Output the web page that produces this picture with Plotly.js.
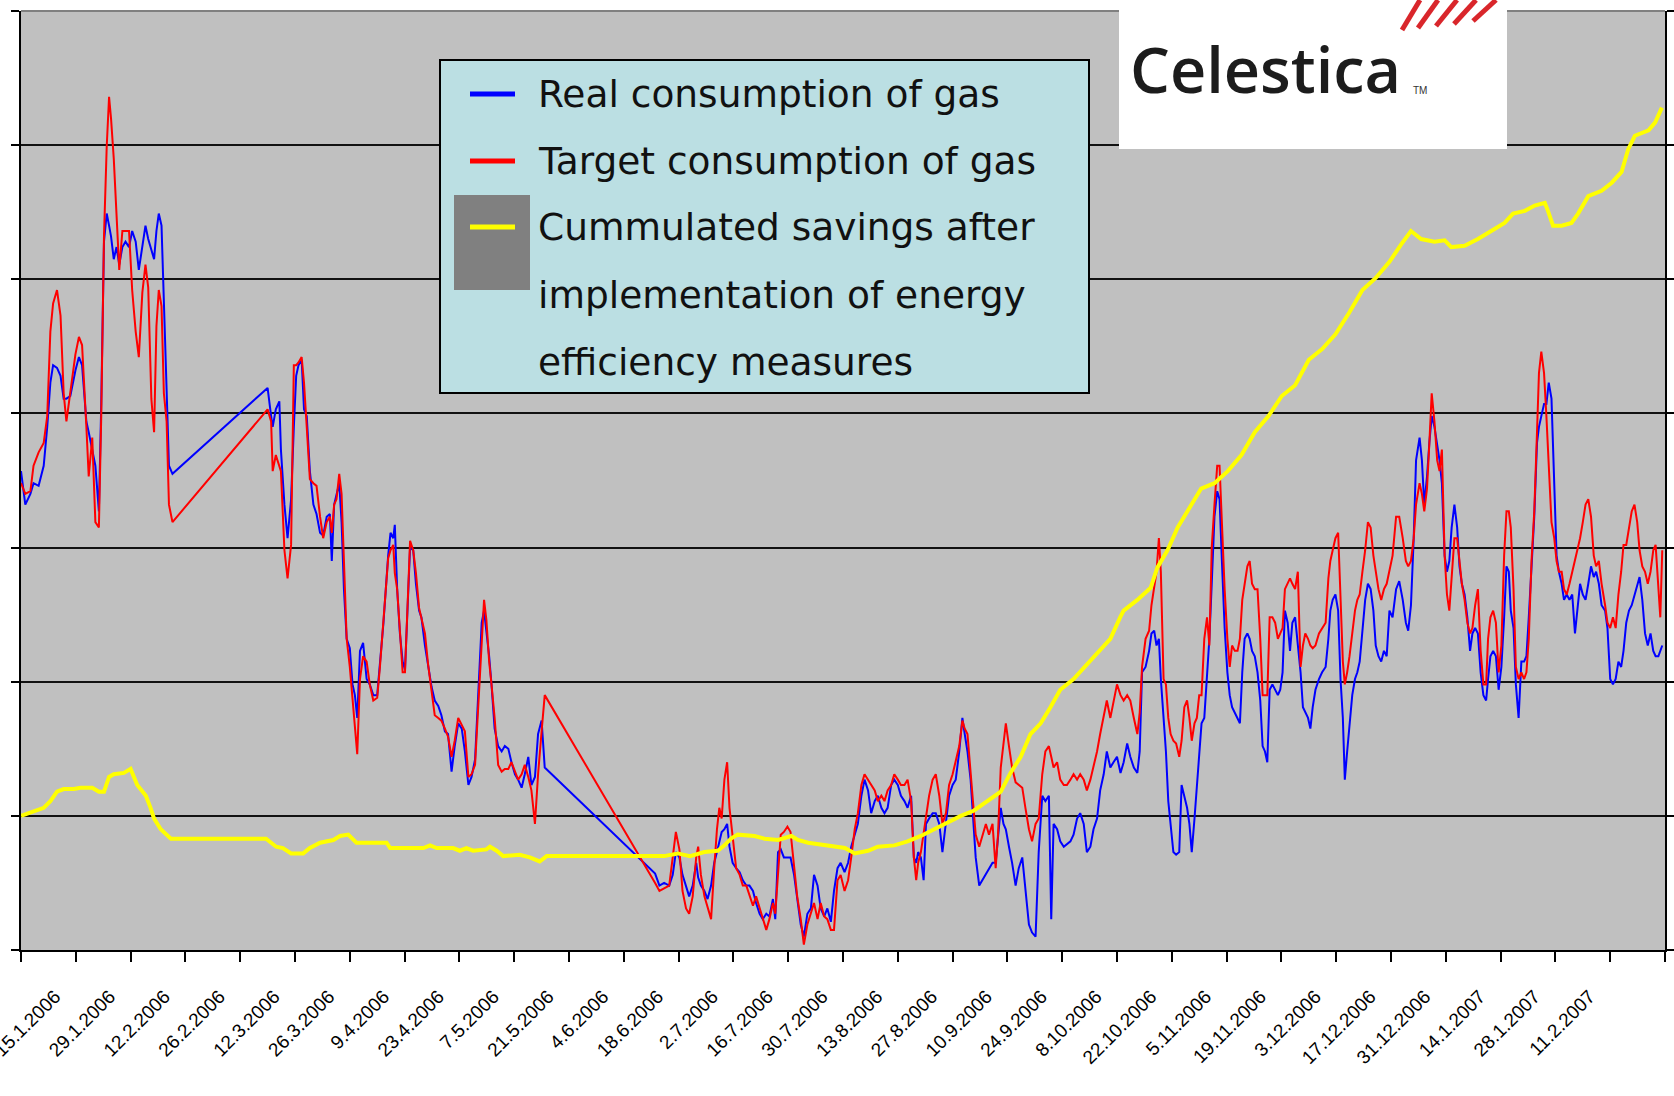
<!DOCTYPE html>
<html>
<head>
<meta charset="utf-8">
<script src="https://cdn.plot.ly/plotly-3.0.1.min.js"></script>
<style>
  html, body { margin: 0; padding: 0; background: #fff; }
  #chart { width: 1674px; height: 1096px; }
</style>
</head>
<body>
<div id="chart"></div>
<script>
// Days counted from 15.1.2006 (first tick of the axis)
var startDate = Date.UTC(2006, 0, 15);

// Gas consumption, real (blue) and target (red), same days
var gasDays = [
  0, 1.1, 2.4, 3.2, 4.5, 5.8, 6.7, 7.5, 8.2, 9.2, 10.1, 10.9, 11.6, 12.6, 13.9, 14.8, 15.6, 16.7, 17.3, 18.2,
  19.0, 19.9, 20.5, 21.2, 21.9, 22.5, 23.0, 23.7, 24.4, 25.1, 25.9, 26.7, 27.6, 28.4, 29.3, 30.1, 31.0, 31.8, 32.5, 33.3,
  34.0, 34.6, 35.2, 35.9, 36.5, 37.2, 37.8, 38.7, 63.0, 63.9, 64.3, 65.1, 66.0, 66.4, 67.3, 68.1, 69.0, 69.7,
  70.3, 70.9, 71.7, 72.3, 73.0, 73.8, 74.7, 75.5, 76.4, 77.2, 78.1, 78.9, 79.4, 80.0, 80.6, 81.3, 81.9, 82.5, 83.2, 84.0,
  84.7, 85.3, 85.9, 86.6, 87.4, 88.3, 89.1, 90.0, 91.0, 91.7, 92.6, 93.2, 93.8, 94.4, 95.1, 95.5, 96.1, 96.8, 97.5, 98.1,
  98.7, 99.4, 100.2, 100.9, 101.7, 102.3, 103.2, 104.0, 104.9, 105.7, 106.6, 107.4, 108.3, 109.1, 110.0, 110.8, 111.7, 112.6, 113.4, 114.3,
  115.1, 116.0, 116.8, 117.7, 118.3, 118.9, 119.6, 120.2, 121.0, 121.9, 122.8, 123.6, 124.5, 125.3, 126.2, 127.0, 127.9, 128.7, 129.6, 130.4,
  131.3, 132.1, 133.0, 133.8,
  162.0, 163.1, 164.3, 165.6, 166.5, 167.3, 168.2, 169.0, 169.9, 170.7, 171.6, 172.5, 173.0, 173.7, 174.6, 175.4, 176.3, 177.1, 177.8, 178.4,
  179.0, 179.7, 180.4, 181.0, 181.8, 182.7, 183.6, 184.4, 185.3, 186.1, 187.0, 187.8, 188.7, 189.5, 190.4, 191.2, 192.1, 192.7, 193.4, 194.1,
  194.9, 195.8, 196.6, 197.5, 198.3, 199.2, 200.0, 200.9, 201.8, 202.6, 203.5, 204.3, 205.2, 206.0, 206.9, 207.7, 208.6, 209.4,
  210.4, 211.3, 212.1, 213.0, 213.8, 214.7, 215.5, 216.4, 217.2, 218.1, 218.9, 219.8, 220.6, 221.4, 222.3, 223.1, 224.0, 224.8, 225.7, 226.5,
  227.4, 228.1, 228.7, 229.2, 229.9, 230.6, 231.2, 232.0, 232.9, 233.7, 234.6, 235.4, 236.3, 237.1, 238.0, 238.8, 239.7, 240.5, 241.1, 241.8,
  242.6, 243.3, 243.9, 244.8, 245.6, 246.5, 247.3, 248.2, 249.0, 249.6, 250.3, 251.0, 251.6, 252.4, 253.2, 254.1, 254.9, 255.8, 256.6, 257.5,
  258.3, 259.2, 260.0, 260.9, 261.7, 262.6, 263.2, 263.8, 264.7, 265.5, 266.4, 267.2, 268.1, 268.9, 269.8, 270.6, 271.5, 272.3, 273.2, 274.0,
  274.9, 275.7, 276.6, 277.4, 278.3, 279.1, 280.0,
  280.9, 281.7, 282.6, 283.4, 284.3, 285.2, 285.8, 286.4, 287.3, 288.2, 288.8, 289.5, 290.1, 290.7, 291.2, 291.9, 292.5, 293.1, 293.7, 294.4,
  295.1, 295.9, 296.5, 297.2, 297.9, 298.5, 299.1, 299.8, 300.4, 301.0, 301.6, 302.3, 303.0, 303.6, 304.2, 304.9, 305.6, 306.2, 306.8, 307.5,
  308.2, 308.8, 309.4, 310.1, 310.8, 311.4, 312.0, 312.6, 313.3, 313.9, 314.5, 315.2, 315.9, 316.6, 317.2, 317.8, 318.4, 319.0, 319.7, 320.4,
  321.1, 321.7, 322.3, 322.9, 323.6, 324.2, 324.8, 325.5, 326.2, 326.9, 327.5, 328.1, 328.8, 329.4, 330.0, 330.7, 331.6, 332.4, 333.3, 334.0,
  334.5, 335.1, 335.8, 336.5, 337.1, 337.7, 338.2, 338.8, 339.4, 340.1, 340.8, 341.4, 342.0, 342.7, 343.4, 344.1, 344.8, 345.5, 346.1, 346.8,
  347.5, 348.2, 348.9, 349.6,
  350.4, 351.3, 352.1, 353.0, 353.8, 354.4, 355.1, 355.8, 356.4, 357.3, 357.9, 358.5, 359.2, 359.8, 360.4, 361.1, 361.8, 362.4, 363.0, 363.7,
  364.3, 364.9, 365.5, 366.2, 366.9, 367.5, 368.1, 368.8, 369.5, 370.2, 370.8, 371.5, 372.2, 372.9, 373.6, 374.3, 374.8, 375.4, 376.1, 376.8,
  377.5, 378.2, 378.9, 379.5, 380.1, 380.6, 381.3, 381.9, 382.6, 383.3, 384.0, 384.6, 385.2, 385.9, 386.6, 387.3, 387.8, 388.4, 389.1, 389.7,
  390.3, 391.0, 391.7, 392.3, 392.9, 393.6, 394.2, 394.9, 395.6, 396.3, 397.0, 397.7, 398.3, 399.0, 399.7, 400.4, 401.1, 401.8, 402.4, 403.1,
  403.8, 404.7, 405.3, 406.0, 406.7, 407.4, 408.1, 408.8, 409.4, 410.1, 410.8, 411.5, 412.2, 412.9, 413.5, 414.2, 414.9, 415.6, 416.3, 417.0,
  417.6, 418.3, 418.8, 419.3
];

var realGas = [
  3.57, 3.32, 3.40, 3.48, 3.46, 3.61, 3.90, 4.23, 4.36, 4.34, 4.28, 4.11, 4.11, 4.13, 4.32, 4.42, 4.36, 3.94, 3.86, 3.73,
  3.61, 3.27, 4.07, 5.28, 5.49, 5.40, 5.32, 5.15, 5.24, 5.11, 5.24, 5.28, 5.24, 5.36, 5.28, 5.07, 5.24, 5.40, 5.30, 5.22,
  5.15, 5.36, 5.49, 5.40, 4.82, 4.07, 3.61, 3.55, 4.19, 3.98, 3.90, 4.03, 4.09, 3.73, 3.32, 3.07, 3.36, 3.90,
  4.28, 4.36, 4.40, 4.03, 3.98, 3.57, 3.32, 3.25, 3.11, 3.09, 3.23, 3.25, 2.90, 3.32, 3.40, 3.48, 3.19, 2.69, 2.32, 2.25,
  1.98, 1.90, 1.73, 2.23, 2.29, 2.02, 1.98, 1.90, 1.90, 2.13, 2.44, 2.69, 2.94, 3.11, 3.07, 3.17, 2.69, 2.36, 2.15, 2.09,
  2.53, 3.00, 2.98, 2.73, 2.53, 2.48, 2.27, 2.11, 1.96, 1.86, 1.82, 1.75, 1.63, 1.61, 1.33, 1.52, 1.69, 1.65, 1.48, 1.23,
  1.29, 1.42, 1.86, 2.44, 2.53, 2.38, 2.19, 1.98, 1.65, 1.52, 1.48, 1.52, 1.50, 1.40, 1.31, 1.27, 1.21, 1.31, 1.44, 1.23,
  1.29, 1.61, 1.71, 1.36,
  0.57, 0.48, 0.50, 0.48, 0.56, 0.73, 0.69, 0.56, 0.48, 0.40, 0.48, 0.65, 0.54, 0.48, 0.44, 0.38, 0.48, 0.65, 0.73, 0.81,
  0.88, 0.90, 0.94, 0.77, 0.65, 0.61, 0.58, 0.52, 0.48, 0.48, 0.44, 0.35, 0.27, 0.23, 0.27, 0.25, 0.38, 0.23, 0.73, 0.75,
  0.69, 0.69, 0.69, 0.56, 0.40, 0.19, 0.10, 0.27, 0.31, 0.56, 0.48, 0.31, 0.25, 0.31, 0.21, 0.44, 0.61, 0.65,
  0.58, 0.65, 0.77, 0.86, 0.94, 1.15, 1.27, 1.19, 1.02, 1.11, 1.15, 1.06, 1.02, 1.06, 1.23, 1.27, 1.23, 1.15, 1.11, 1.06,
  1.15, 0.69, 0.65, 0.73, 0.69, 0.52, 0.94, 0.98, 1.02, 1.02, 0.94, 0.73, 0.98, 1.15, 1.23, 1.27, 1.48, 1.73, 1.61, 1.48,
  1.27, 0.94, 0.69, 0.48, 0.52, 0.56, 0.61, 0.65, 0.65, 0.86, 1.06, 0.94, 0.90, 0.77, 0.65, 0.48, 0.61, 0.69, 0.44, 0.19,
  0.13, 0.10, 0.73, 1.15, 1.11, 1.15, 0.23, 0.94, 0.90, 0.81, 0.77, 0.79, 0.81, 0.86, 0.98, 1.02, 0.94, 0.73, 0.77, 0.90,
  0.98, 1.19, 1.31, 1.48, 1.36, 1.40, 1.44,
  1.32, 1.40, 1.54, 1.44, 1.36, 1.32, 1.48, 2.07, 2.11, 2.23, 2.36, 2.38, 2.27, 2.32, 2.02, 1.73, 1.48, 1.11, 0.94, 0.73,
  0.71, 0.73, 1.23, 1.15, 1.06, 0.94, 0.73, 0.98, 1.23, 1.44, 1.69, 1.73, 2.07, 2.32, 2.73, 3.23, 3.42, 3.36, 2.90, 2.40,
  2.07, 1.90, 1.81, 1.77, 1.73, 1.69, 2.07, 2.32, 2.36, 2.32, 2.23, 2.19, 2.07, 1.86, 1.52, 1.48, 1.40, 1.94, 1.98, 1.94,
  1.90, 1.94, 2.07, 2.53, 2.44, 2.23, 2.44, 2.48, 2.27, 2.07, 1.81, 1.77, 1.73, 1.65, 1.81, 1.94, 2.02, 2.07, 2.11, 2.32,
  2.53, 2.61, 2.65, 2.53, 2.02, 1.73, 1.27, 1.48, 1.69, 1.90, 2.02, 2.07, 2.15, 2.36, 2.61, 2.73, 2.69, 2.53, 2.27, 2.19,
  2.15, 2.23, 2.19, 2.53,
  2.48, 2.69, 2.75, 2.61, 2.44, 2.38, 2.57, 3.07, 3.65, 3.82, 3.65, 3.32, 3.53, 3.78, 3.98, 3.90, 3.78, 3.65, 3.48, 2.94,
  2.82, 2.90, 3.15, 3.32, 3.15, 2.86, 2.73, 2.65, 2.48, 2.23, 2.36, 2.40, 2.36, 2.07, 1.90, 1.86, 2.02, 2.19, 2.23, 2.19,
  1.94, 2.11, 2.48, 2.86, 2.82, 2.53, 2.40, 1.98, 1.73, 2.15, 2.15, 2.19, 2.48, 2.90, 3.23, 3.78, 3.90, 3.98, 4.07, 4.07,
  4.23, 4.11, 3.55, 2.94, 2.82, 2.73, 2.61, 2.65, 2.61, 2.65, 2.36, 2.57, 2.73, 2.65, 2.61, 2.73, 2.86, 2.78, 2.82, 2.73,
  2.57, 2.53, 2.40, 2.02, 1.98, 2.02, 2.15, 2.11, 2.23, 2.44, 2.53, 2.57, 2.65, 2.73, 2.78, 2.61, 2.36, 2.27, 2.36, 2.23,
  2.19, 2.19, 2.23, 2.27
];

var targetGas = [
  3.48, 3.40, 3.42, 3.61, 3.71, 3.78, 3.98, 4.61, 4.82, 4.92, 4.73, 4.15, 3.94, 4.15, 4.44, 4.57, 4.51, 3.90, 3.53, 3.82,
  3.19, 3.15, 3.98, 5.32, 5.99, 6.36, 6.20, 5.90, 5.53, 5.07, 5.36, 5.36, 5.36, 4.92, 4.61, 4.42, 4.90, 5.11, 4.94, 4.11,
  3.86, 4.65, 4.92, 4.80, 4.15, 3.94, 3.32, 3.19, 4.03, 3.94, 3.57, 3.69, 3.61, 3.57, 2.98, 2.77, 3.02, 4.36,
  4.36, 4.38, 4.42, 4.23, 3.90, 3.51, 3.48, 3.46, 3.23, 3.07, 3.19, 3.23, 3.11, 3.32, 3.36, 3.55, 3.40, 2.86, 2.32, 2.11,
  1.86, 1.61, 1.46, 2.02, 2.19, 2.15, 1.98, 1.86, 1.88, 2.11, 2.44, 2.67, 2.92, 2.98, 3.02, 2.81, 2.69, 2.38, 2.07, 2.07,
  2.55, 3.05, 2.98, 2.81, 2.55, 2.48, 2.36, 2.13, 1.92, 1.75, 1.73, 1.71, 1.65, 1.59, 1.44, 1.56, 1.73, 1.67, 1.63, 1.29,
  1.31, 1.38, 1.81, 2.32, 2.61, 2.46, 2.15, 1.98, 1.73, 1.38, 1.33, 1.35, 1.35, 1.40, 1.33, 1.27, 1.31, 1.38, 1.29, 1.19,
  0.94, 1.31, 1.63, 1.90,
  0.50, 0.44, 0.46, 0.48, 0.69, 0.88, 0.75, 0.44, 0.31, 0.27, 0.40, 0.69, 0.77, 0.56, 0.40, 0.31, 0.23, 0.61, 0.90, 1.06,
  0.98, 1.27, 1.40, 1.06, 0.86, 0.61, 0.56, 0.48, 0.48, 0.40, 0.33, 0.40, 0.31, 0.23, 0.15, 0.23, 0.35, 0.27, 0.56, 0.86,
  0.88, 0.92, 0.88, 0.65, 0.40, 0.23, 0.04, 0.19, 0.27, 0.35, 0.23, 0.35, 0.25, 0.23, 0.15, 0.15, 0.52, 0.56,
  0.44, 0.52, 0.69, 0.90, 1.02, 1.23, 1.31, 1.27, 1.23, 1.19, 1.11, 1.15, 1.11, 1.19, 1.23, 1.31, 1.27, 1.23, 1.23, 1.27,
  1.11, 0.69, 0.52, 0.65, 0.73, 0.86, 0.98, 1.15, 1.27, 1.31, 1.15, 0.94, 1.02, 1.23, 1.31, 1.40, 1.52, 1.71, 1.65, 1.61,
  1.31, 1.02, 0.86, 0.77, 0.86, 0.94, 0.86, 0.94, 0.61, 0.86, 1.36, 1.56, 1.69, 1.52, 1.36, 1.25, 1.23, 1.21, 1.06, 0.90,
  0.81, 0.94, 0.98, 1.31, 1.48, 1.52, 1.44, 1.36, 1.40, 1.27, 1.23, 1.23, 1.27, 1.31, 1.27, 1.31, 1.27, 1.19, 1.27, 1.36,
  1.48, 1.61, 1.73, 1.86, 1.73, 1.86, 1.98,
  1.90, 1.86, 1.90, 1.86, 1.73, 1.61, 1.77, 2.11, 2.32, 2.38, 2.57, 2.69, 2.82, 3.07, 2.82, 2.02, 1.98, 1.73, 1.61, 1.56,
  1.54, 1.44, 1.56, 1.81, 1.86, 1.73, 1.56, 1.69, 1.73, 1.90, 1.90, 2.32, 2.48, 2.27, 3.00, 3.32, 3.61, 3.61, 3.15, 2.69,
  2.32, 2.11, 2.27, 2.23, 2.23, 2.32, 2.61, 2.73, 2.86, 2.90, 2.73, 2.69, 2.69, 2.32, 1.90, 1.90, 1.90, 2.48, 2.48, 2.44,
  2.32, 2.36, 2.40, 2.69, 2.73, 2.77, 2.73, 2.69, 2.82, 2.11, 2.27, 2.36, 2.32, 2.27, 2.25, 2.27, 2.36, 2.40, 2.44, 2.77,
  2.90, 2.98, 3.07, 3.11, 2.69, 2.15, 1.98, 2.07, 2.19, 2.36, 2.53, 2.61, 2.65, 2.82, 2.98, 3.19, 3.15, 2.94, 2.82, 2.69,
  2.61, 2.69, 2.73, 2.82,
  2.94, 3.23, 3.23, 3.07, 2.90, 2.86, 2.90, 3.07, 3.32, 3.48, 3.40, 3.27, 3.44, 3.78, 4.15, 3.94, 3.65, 3.57, 3.73, 2.94,
  2.65, 2.53, 2.82, 3.07, 3.07, 2.90, 2.73, 2.61, 2.44, 2.36, 2.40, 2.57, 2.69, 2.23, 1.98, 1.98, 2.32, 2.48, 2.53, 2.44,
  2.07, 2.27, 2.94, 3.27, 3.27, 3.15, 2.69, 2.11, 2.02, 2.07, 2.02, 2.07, 2.32, 2.90, 3.27, 3.86, 4.30, 4.46, 4.30, 3.98,
  3.61, 3.19, 3.07, 2.90, 2.82, 2.82, 2.69, 2.65, 2.73, 2.82, 2.90, 2.98, 3.07, 3.19, 3.32, 3.36, 3.23, 2.94, 2.86, 2.90,
  2.73, 2.57, 2.44, 2.40, 2.48, 2.40, 2.65, 2.82, 3.02, 3.02, 3.15, 3.27, 3.32, 3.19, 2.98, 2.86, 2.82, 2.73, 2.82, 2.98,
  3.02, 2.73, 2.48, 2.98
];

// Cummulated savings (yellow)
var savingDays = [
  0, 3.2, 5.8, 7.5, 9.2, 10.9, 13.5, 15.2, 18.2, 19.9, 21.2, 22.5, 23.7, 26.3, 28.0, 29.7, 31.9, 33.1, 34.0, 35.7,
  38.3, 45.1, 53.6, 62.6, 65.2, 66.9, 69.0, 72.1, 73.8, 76.4, 79.8, 81.5, 83.6, 85.7, 89.1, 93.4, 94.3, 99.4, 102.8, 104.5,
  106.2, 110.4, 112.1, 113.8, 115.5, 118.9, 119.8, 121.5, 123.2, 127.4, 130.0, 132.5, 134.3, 140.2, 164.3, 167.8, 170.9, 174.6, 178.0, 179.7,
  181.4, 183.1, 187.4, 190.0, 193.4, 196.8, 198.5, 201.1, 205.3, 210.5, 213.0, 216.4, 218.9, 223.1, 226.5, 229.9, 233.3, 236.7, 240.1, 243.5,
  246.9, 250.3, 252.8, 255.4, 257.9, 260.5, 263.0, 265.5, 268.9, 272.3, 275.7, 278.3, 280.8, 281.7, 285.2, 288.6, 290.3, 292.9, 295.5, 298.0,
  301.5, 304.9, 308.3, 311.8, 315.2, 318.7, 322.1, 325.5, 329.0, 332.4, 335.8, 339.3, 342.7, 346.1, 349.6, 352.6, 355.1, 357.7, 361.1, 363.7,
  365.4, 368.8, 372.2, 375.6, 379.0, 381.2, 384.2, 386.7, 389.3, 390.1, 391.4, 393.6, 396.1, 397.8, 400.4, 403.8, 406.4, 408.9, 410.6, 412.3,
  415.8, 417.5, 419.2
];

var savings = [
  1.00, 1.03, 1.06, 1.11, 1.18, 1.20, 1.20, 1.21, 1.21, 1.18, 1.18, 1.29, 1.31, 1.32, 1.35, 1.23, 1.15, 1.06, 0.98, 0.90,
  0.83, 0.83, 0.83, 0.83, 0.77, 0.76, 0.72, 0.72, 0.76, 0.80, 0.82, 0.85, 0.86, 0.80, 0.80, 0.80, 0.76, 0.76, 0.76, 0.78,
  0.76, 0.76, 0.74, 0.76, 0.74, 0.75, 0.77, 0.74, 0.70, 0.71, 0.69, 0.66, 0.70, 0.70, 0.70, 0.72, 0.70, 0.73, 0.74, 0.78,
  0.83, 0.86, 0.85, 0.83, 0.82, 0.85, 0.82, 0.80, 0.78, 0.76, 0.72, 0.74, 0.77, 0.78, 0.81, 0.85, 0.90, 0.95, 1.00, 1.04,
  1.11, 1.18, 1.32, 1.44, 1.61, 1.69, 1.81, 1.94, 2.02, 2.13, 2.23, 2.32, 2.48, 2.53, 2.61, 2.70, 2.85, 2.98, 3.15, 3.27,
  3.44, 3.48, 3.57, 3.69, 3.86, 3.98, 4.13, 4.21, 4.40, 4.48, 4.59, 4.75, 4.92, 5.01, 5.13, 5.26, 5.36, 5.30, 5.28, 5.29,
  5.24, 5.25, 5.30, 5.36, 5.42, 5.49, 5.51, 5.55, 5.57, 5.51, 5.40, 5.40, 5.42, 5.49, 5.62, 5.66, 5.72, 5.80, 5.97, 6.07,
  6.11, 6.17, 6.28
];

// Axis ticks, every 14 days
var tickDates = ['2006-01-15', '2006-01-29', '2006-02-12', '2006-02-26', '2006-03-12', '2006-03-26', '2006-04-09',
  '2006-04-23', '2006-05-07', '2006-05-21', '2006-06-04', '2006-06-18', '2006-07-02', '2006-07-16', '2006-07-30',
  '2006-08-13', '2006-08-27', '2006-09-10', '2006-09-24', '2006-10-08', '2006-10-22', '2006-11-05', '2006-11-19',
  '2006-12-03', '2006-12-17', '2006-12-31', '2007-01-14', '2007-01-28', '2007-02-11', '2007-02-25', '2007-03-11'];
var tickLabels = ['15.1.2006', '29.1.2006', '12.2.2006', '26.2.2006', '12.3.2006', '26.3.2006', '9.4.2006',
  '23.4.2006', '7.5.2006', '21.5.2006', '4.6.2006', '18.6.2006', '2.7.2006', '16.7.2006', '30.7.2006',
  '13.8.2006', '27.8.2006', '10.9.2006', '24.9.2006', '8.10.2006', '22.10.2006', '5.11.2006', '19.11.2006',
  '3.12.2006', '17.12.2006', '31.12.2006', '14.1.2007', '28.1.2007', '11.2.2007', '', ''];
var yTicks = [0, 1, 2, 3, 4, 5, 6, 7];

var seriesNames = ['Real consumption of gas', 'Target consumption of gas',
  'Cummulated savings after implementation of energy efficiency measures'];
var legendLines = ['Real consumption of gas', 'Target consumption of gas', 'Cummulated savings after',
  'implementation of energy', 'efficiency measures'];

function toDate(d) {
  return new Date(startDate + d * 86400000).toISOString().slice(0, 19).replace('T', ' ');
}

// pixel -> paper helpers for the drawn legend and logo
var W = 1674, H = 1096, mL = 21, mR = 9, mT = 11, mB = 146;
function px(x) { return (x - mL) / (W - mL - mR); }
function py(y) { return (H - mB - y) / (H - mT - mB); }

var gasX = gasDays.map(toDate);

var traceReal = {
  x: gasX, y: realGas, name: seriesNames[0], type: 'scatter', mode: 'lines',
  line: { color: '#0000ff', width: 2 }
};
var traceTarget = {
  x: gasX, y: targetGas, name: seriesNames[1], type: 'scatter', mode: 'lines',
  line: { color: '#ff0000', width: 2 }
};
var traceSavings = {
  x: savingDays.map(toDate), y: savings, name: seriesNames[2], type: 'scatter', mode: 'lines',
  yaxis: 'y2', line: { color: '#ffff00', width: 4 }
};

var legendColors = ['#0000ff', '#ff0000', '#ffff00'];
var legendRowY = [94, 161, 227, 295, 362];

var shapes = [
  // top border of plot area
  { type: 'line', xref: 'paper', yref: 'paper', x0: 0, x1: 1, y0: 1, y1: 1, line: { color: '#808080', width: 2 } },
  // legend box
  { type: 'rect', xref: 'paper', yref: 'paper', x0: px(440), x1: px(1089), y0: py(393), y1: py(60),
    fillcolor: '#bbdfe3', line: { color: '#000', width: 2 } },
  { type: 'rect', xref: 'paper', yref: 'paper', x0: px(454), x1: px(530), y0: py(290), y1: py(195),
    fillcolor: '#808080', line: { width: 0 } },
  // logo panel
  { type: 'rect', xref: 'paper', yref: 'paper', x0: px(1119), x1: px(1507), y0: py(149), y1: py(0),
    fillcolor: '#ffffff', line: { width: 0 } }
];
for (var i = 0; i < 3; i++) {
  shapes.push({ type: 'line', xref: 'paper', yref: 'paper', x0: px(470), x1: px(515),
    y0: py(legendRowY[i]), y1: py(legendRowY[i]), line: { color: legendColors[i], width: 5 } });
}
// red strokes of the logo
var strokes = [[1402, 30, 1420, 0], [1418, 28, 1438, 0], [1436, 26, 1457, 0], [1454, 24, 1476, 0], [1473, 21, 1496, 0]];
strokes.forEach(function (s) {
  shapes.push({ type: 'line', xref: 'paper', yref: 'paper', x0: px(s[0]), y0: py(s[1]), x1: px(s[2]), y1: py(s[3]),
    line: { color: '#d9262b', width: 5 } });
});

var annotations = legendLines.map(function (t, i) {
  return { text: t, xref: 'paper', yref: 'paper', x: px(536), y: py(legendRowY[i]), xanchor: 'left', yanchor: 'middle',
    showarrow: false, font: { family: 'DejaVu Sans', size: 37.5, color: '#111' } };
});
annotations.push({ text: 'Celestica', xref: 'paper', yref: 'paper', x: px(1128), y: py(68), xanchor: 'left', yanchor: 'middle',
  showarrow: false, font: { family: 'Open Sans', size: 63, color: '#1c1c1c', weight: 600 } });
annotations.push({ text: 'TM', xref: 'paper', yref: 'paper', x: px(1411), y: py(91), xanchor: 'left', yanchor: 'middle',
  showarrow: false, font: { family: 'Liberation Sans', size: 10, color: '#333' } });

var layout = {
  width: W, height: H,
  margin: { l: mL, r: mR, t: mT, b: mB },
  paper_bgcolor: '#ffffff',
  plot_bgcolor: '#c0c0c0',
  showlegend: false,
  xaxis: {
    type: 'date',
    range: ['2006-01-15', '2007-03-11'],
    tickmode: 'array', tickvals: tickDates, ticktext: tickLabels,
    tickangle: -45,
    ticklabelshift: 34,
    ticklabelstandoff: 16,
    ticklabeloverflow: 'allow',
    ticks: 'outside', ticklen: 10, tickwidth: 2, tickcolor: '#000',
    showline: true, linecolor: '#000', linewidth: 2,
    showgrid: false, zeroline: false,
    tickfont: { family: 'Liberation Sans', size: 19, color: '#000' }
  },
  yaxis: {
    range: [0, 7], tickmode: 'array', tickvals: yTicks,
    showticklabels: false,
    ticks: 'outside', ticklen: 8, tickwidth: 2, tickcolor: '#000',
    showline: true, linecolor: '#000', linewidth: 2,
    showgrid: true, gridcolor: '#111', gridwidth: 2, zeroline: false
  },
  yaxis2: {
    range: [0, 7], tickmode: 'array', tickvals: yTicks,
    overlaying: 'y', side: 'right',
    showticklabels: false,
    ticks: 'outside', ticklen: 8, tickwidth: 2, tickcolor: '#000',
    showline: true, linecolor: '#000', linewidth: 2,
    showgrid: false, zeroline: false
  },
  shapes: shapes,
  annotations: annotations
};

Plotly.newPlot('chart', [traceReal, traceTarget, traceSavings], layout, { displayModeBar: false, staticPlot: true });
</script>
</body>
</html>
